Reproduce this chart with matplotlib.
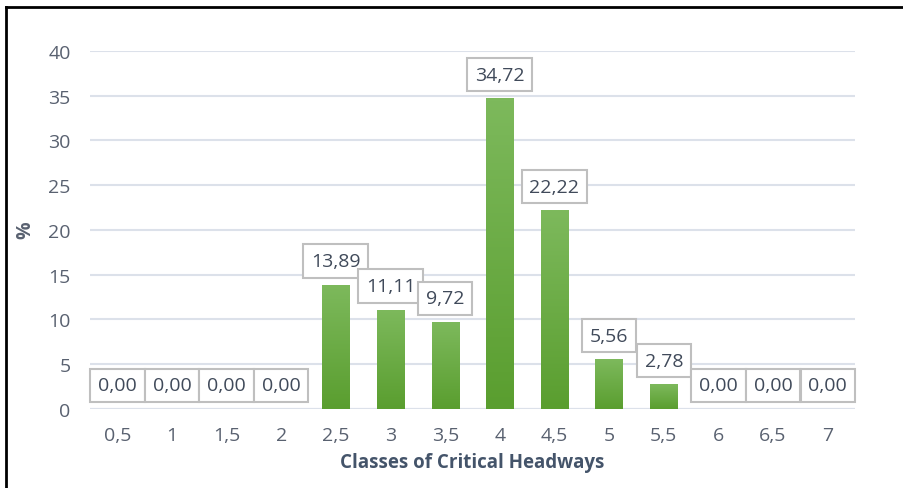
import numpy as np
import matplotlib
matplotlib.use("Agg")
import matplotlib.pyplot as plt
from matplotlib.colors import LinearSegmentedColormap

plt.rcParams['font.family'] = ['Open Sans', 'DejaVu Sans']

# data
classes = ['0,5', '1', '1,5', '2', '2,5', '3', '3,5', '4', '4,5', '5', '5,5', '6', '6,5', '7']
percent = [0.00, 0.00, 0.00, 0.00, 13.89, 11.11, 9.72, 34.72, 22.22, 5.56, 2.78, 0.00, 0.00, 0.00]

text_col = '#596170'
grid_col = '#dce1ea'
green = LinearSegmentedColormap.from_list('g', ['#5a9e2f', '#7db95c'])

fig = plt.figure(figsize=(9.04, 4.89), dpi=100)
ax = fig.add_axes([0.0996, 0.1616, 0.8462, 0.7321])

x = np.arange(len(classes))
ax.set_xlim(-0.5, len(classes) - 0.5)
ax.set_ylim(0, 40)
ax.set_yticks(np.arange(0, 41, 5))
ax.yaxis.grid(True, color=grid_col, lw=1.5)
ax.set_axisbelow(True)
for s in ax.spines.values():
    s.set_visible(False)
ax.axhline(0, color=grid_col, lw=1.5, zorder=1)

bars = ax.bar(x, percent, width=0.5, color='none', zorder=2)
grad = np.linspace(0, 1, 100).reshape(-1, 1)
for b, v in zip(bars, percent):
    if v <= 0:
        continue
    x0 = b.get_x()
    im = ax.imshow(grad, cmap=green, aspect='auto', origin='lower',
                   extent=[x0, x0 + b.get_width(), 0, v], zorder=2)
    im.set_clip_path(b)

for xi, v in zip(x, percent):
    ax.annotate(f'{v:.2f}'.replace('.', ','), (xi, v), xytext=(0, 10.5),
                textcoords='offset points', ha='center', va='bottom',
                fontsize=14, color='#404a5a', zorder=4,
                bbox=dict(boxstyle='square,pad=0.4', fc='white', ec='#bfbfbf', lw=1.5))

ax.set_xticks(x)
ax.set_xticklabels(classes)
ax.tick_params(length=0, labelsize=14, labelcolor=text_col)
ax.tick_params(axis='y', pad=14)
ax.tick_params(axis='x', pad=12)
ax.set_xlabel('Classes of Critical Headways', fontsize=13.5, fontweight='bold',
              color='#44546a', labelpad=6)
fig.text(0.028, 0.53, '%', rotation=90, fontsize=14, fontweight='bold',
         color=text_col, ha='center', va='center')

# outer frame (left and top edge)
fig.add_artist(plt.Line2D([0.007, 0.007], [0, 0.984], color='black', lw=2))
fig.add_artist(plt.Line2D([0.007, 1], [0.984, 0.984], color='black', lw=2))

fig.savefig('out.png', dpi=100)
